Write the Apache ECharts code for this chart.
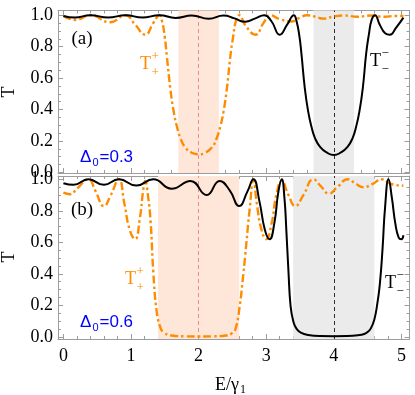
<!DOCTYPE html>
<html>
<head>
<meta charset="utf-8">
<script src="https://cdn.jsdelivr.net/npm/echarts@6/dist/echarts.min.js"></script>
<style>
  html, body { margin: 0; padding: 0; background: #fff; }
  #chart { width: 415px; height: 395px; }
</style>
</head>
<body>
<div id="chart"></div>
<script>
// ticks
const xTicks = [0, 1, 2, 3, 4, 5];
const xMinor = [0, 0.2, 0.4, 0.6, 0.8, 1, 1.2, 1.4, 1.6, 1.8, 2, 2.2, 2.4, 2.6, 2.8, 3, 3.2, 3.4, 3.6, 3.8, 4, 4.2, 4.4, 4.6, 4.8, 5];
const yTicks = [0, 0.2, 0.4, 0.6, 0.8, 1.0];
const yMinor = [0, 0.05, 0.1, 0.15, 0.2, 0.25, 0.3, 0.35, 0.4, 0.45, 0.5, 0.55, 0.6, 0.65, 0.7, 0.75, 0.8, 0.85, 0.9, 0.95, 1.0];

// panel (a), Delta0 = 0.3
const aBlackX = [0, 0.17, 0.4, 0.66, 0.92, 1.17, 1.42, 1.66, 1.9, 2.15, 2.37, 2.53, 2.69, 2.84, 2.97, 3.08, 3.2, 3.31, 3.41, 3.45, 3.49, 3.52, 3.57, 3.62, 3.67, 3.72, 3.8, 3.9, 4.0, 4.1, 4.2, 4.28, 4.33, 4.38, 4.43, 4.48, 4.52, 4.56, 4.61, 4.68, 4.76, 4.83, 4.92, 5.03];
const aBlackT = [0.995, 0.985, 1.0, 0.985, 1.0, 0.985, 1.0, 0.983, 0.998, 0.978, 0.998, 0.98, 0.958, 0.98, 1.0, 0.96, 0.876, 0.94, 1.0, 0.96, 0.87, 0.76, 0.54, 0.39, 0.29, 0.22, 0.16, 0.125, 0.11, 0.125, 0.16, 0.22, 0.29, 0.39, 0.54, 0.76, 0.88, 0.97, 1.0, 0.94, 0.885, 0.876, 0.92, 0.985];
const aOrangeX = [0, 0.18, 0.4, 0.69, 0.92, 1.06, 1.21, 1.33, 1.42, 1.46, 1.5, 1.53, 1.58, 1.63, 1.68, 1.73, 1.8, 1.9, 2.0, 2.1, 2.2, 2.27, 2.32, 2.37, 2.42, 2.47, 2.51, 2.55, 2.6, 2.7, 2.84, 2.96, 3.06, 3.2, 3.37, 3.5, 3.6, 3.73, 3.85, 4.0, 4.15, 4.35, 4.55, 4.75, 4.9, 5.03];
const aOrangeT = [0.995, 0.97, 1.0, 0.955, 1.0, 0.94, 0.876, 0.95, 1.0, 0.96, 0.86, 0.74, 0.54, 0.39, 0.29, 0.22, 0.16, 0.125, 0.115, 0.125, 0.16, 0.22, 0.29, 0.39, 0.54, 0.74, 0.86, 0.96, 1.0, 0.93, 0.876, 0.95, 1.0, 0.975, 0.96, 0.985, 1.0, 0.99, 0.978, 0.992, 0.998, 0.99, 0.998, 0.99, 0.995, 0.995];

// panel (b), Delta0 = 0.6
const bBlackX = [0, 0.15, 0.37, 0.6, 0.82, 1.08, 1.33, 1.6, 1.88, 2.12, 2.31, 2.46, 2.6, 2.72, 2.81, 2.9, 2.98, 3.05, 3.12, 3.18, 3.23, 3.27, 3.3, 3.33, 3.36, 3.4, 3.45, 3.52, 3.62, 3.8, 4.0, 4.2, 4.36, 4.45, 4.5, 4.55, 4.6, 4.64, 4.68, 4.72, 4.76, 4.81, 4.86, 4.91, 4.96, 5.0, 5.03];
const bBlackT = [0.975, 0.965, 1.0, 0.965, 1.0, 0.96, 1.0, 0.94, 0.99, 0.9, 0.99, 0.93, 0.83, 0.92, 1.0, 0.86, 0.68, 0.62, 0.72, 0.92, 1.0, 0.88, 0.66, 0.41, 0.2, 0.1, 0.05, 0.025, 0.012, 0.005, 0.004, 0.005, 0.01, 0.018, 0.03, 0.055, 0.11, 0.2, 0.33, 0.55, 0.83, 1.0, 0.88, 0.72, 0.63, 0.62, 0.645];
const bOrangeX = [0, 0.1, 0.2, 0.37, 0.47, 0.6, 0.7, 0.82, 0.9, 0.98, 1.06, 1.13, 1.18, 1.21, 1.25, 1.29, 1.33, 1.38, 1.43, 1.48, 1.6, 1.8, 2.0, 2.2, 2.4, 2.5, 2.55, 2.61, 2.65, 2.69, 2.76, 2.81, 2.86, 2.93, 3.0, 3.08, 3.15, 3.23, 3.33, 3.43, 3.55, 3.7, 3.8, 3.93, 4.05, 4.21, 4.33, 4.44, 4.57, 4.71, 4.85, 5.03];
const bOrangeT = [0.915, 0.905, 0.94, 1.0, 0.93, 0.83, 0.9, 1.0, 0.85, 0.68, 0.62, 0.75, 0.93, 0.99, 0.9, 0.73, 0.41, 0.16, 0.065, 0.03, 0.008, 0.003, 0.002, 0.003, 0.008, 0.025, 0.055, 0.2, 0.35, 0.52, 0.83, 1.0, 0.85, 0.68, 0.62, 0.72, 0.9, 0.99, 0.9, 0.83, 0.9, 1.0, 0.96, 0.91, 0.95, 1.0, 0.97, 0.95, 0.97, 1.0, 0.97, 0.96];

// shaded gaps (centre +/- Delta0)
const aOrangeBand = [1.7, 2.3];
const aGrayBand = [3.7, 4.3];
const bOrangeBand = [1.4, 2.6];
const bGrayBand = [3.4, 4.6];

const serif = '"Liberation Serif", "DejaVu Serif", serif';
const sans = '"Liberation Sans", Arial, sans-serif';
const frame = '#9c9c9c';
const orange = '#ff8c00';
const xMin = -0.08, xMax = 5.12;

const zip = (xs, ys) => xs.map((x, i) => [x, ys[i]]);

function xAxesFor(grid, showLabels) {
  const base = { type: 'value', gridIndex: grid, min: xMin, max: xMax, splitLine: { show: false } };
  const major = (pos, labels) => Object.assign({}, base, {
    position: pos,
    axisLine: { show: true, onZero: false, lineStyle: { color: frame, width: 1 } },
    axisTick: { show: true, inside: true, length: 5, customValues: xTicks, lineStyle: { color: frame } },
    axisLabel: labels
      ? { show: true, customValues: xTicks, margin: 8, fontFamily: serif, fontSize: 18, color: '#000', formatter: v => String(v) }
      : { show: false }
  });
  const minor = pos => Object.assign({}, base, {
    position: pos,
    axisLine: { show: false, onZero: false },
    axisTick: { show: true, inside: true, length: 3, customValues: xMinor, lineStyle: { color: frame } },
    axisLabel: { show: false }
  });
  return [major('bottom', showLabels), minor('bottom'), major('top', false), minor('top')];
}

function yAxesFor(grid, min, max) {
  const base = { type: 'value', gridIndex: grid, min: min, max: max, splitLine: { show: false } };
  const major = (pos, labels) => Object.assign({}, base, {
    position: pos,
    axisLine: { show: true, onZero: false, lineStyle: { color: frame, width: 1 } },
    axisTick: { show: true, inside: true, length: 5, customValues: yTicks, lineStyle: { color: frame } },
    axisLabel: labels
      ? { show: true, customValues: yTicks, margin: 5, fontFamily: serif, fontSize: 18, color: '#000', formatter: v => v.toFixed(1) }
      : { show: false }
  });
  const minor = pos => Object.assign({}, base, {
    position: pos,
    axisLine: { show: false, onZero: false },
    axisTick: { show: true, inside: true, length: 3, customValues: yMinor, lineStyle: { color: frame } },
    axisLabel: { show: false }
  });
  return [major('left', true), minor('left'), major('right', false), minor('right')];
}

function bands(orangeBand, grayBand) {
  return {
    silent: true,
    z: 1,
    data: [
      [{ xAxis: orangeBand[0], itemStyle: { color: '#fee6d8' } }, { xAxis: orangeBand[1] }],
      [{ xAxis: grayBand[0], itemStyle: { color: '#ebebeb' } }, { xAxis: grayBand[1] }]
    ]
  };
}

function vlines() {
  return {
    silent: true,
    symbol: ['none', 'none'],
    z: 1,
    label: { show: false },
    data: [
      { xAxis: 2, lineStyle: { color: '#f28a8a', type: [4, 3], width: 1 } },
      { xAxis: 4, lineStyle: { color: '#000', type: [4, 3], width: 0.8 } }
    ]
  };
}

function blackSeries(axisIdx, data) {
  return {
    type: 'line', xAxisIndex: axisIdx, yAxisIndex: axisIdx, data: data,
    showSymbol: false, smooth: 0.5, z: 4,
    lineStyle: { color: '#000', width: 2 }
  };
}

function orangeSeries(axisIdx, data, oBand, gBand) {
  return {
    type: 'line', xAxisIndex: axisIdx, yAxisIndex: axisIdx, data: data,
    showSymbol: false, smooth: 0.5, z: 3,
    lineStyle: { color: orange, width: 2.4, type: [8, 3, 2.5, 3] },
    markArea: bands(oBand, gBand),
    markLine: vlines()
  };
}

function txt(x, y, text, size, color, family, align, extra) {
  const a = align || 'left';
  return Object.assign({
    type: 'text', x: x, y: y, z: 100, silent: true,
    style: {
      text: text, fontSize: size, fontFamily: family, fill: color,
      align: a, verticalAlign: 'middle', textAlign: a, textVerticalAlign: 'middle'
    }
  }, extra || {});
}

function tLabel(x, y, sign, color) {
  return [
    txt(x, y, 'T', 18, color, serif),
    txt(x + 11.5, y - 7.5, sign, 13, color, serif),
    txt(x + 11.5, y + 8.5, sign, 13, color, serif)
  ];
}

function deltaLabel(x, y, value) {
  return [
    txt(x, y, 'Δ', 17, '#0000ff', sans),
    txt(x + 12.5, y + 5.5, '0', 11, '#0000ff', sans),
    txt(x + 19.5, y, '=' + value, 17, '#0000ff', sans)
  ];
}

const chart = echarts.init(document.getElementById('chart'));

chart.setOption({
  animation: false,
  backgroundColor: '#fff',
  grid: [
    { left: 58, top: 10.5, width: 351.5, height: 162.5 },
    { left: 58, top: 176, width: 351.5, height: 163 }
  ],
  xAxis: xAxesFor(0, false).concat(xAxesFor(1, true)),
  yAxis: yAxesFor(0, -0.004, 1.03).concat(yAxesFor(1, -0.014, 1.021)),
  series: [
    orangeSeries(0, zip(aOrangeX, aOrangeT), aOrangeBand, aGrayBand),
    blackSeries(0, zip(aBlackX, aBlackT)),
    orangeSeries(4, zip(bOrangeX, bOrangeT), bOrangeBand, bGrayBand),
    blackSeries(4, zip(bBlackX, bBlackT))
  ],
  graphic: [
    txt(82, 39, '(a)', 19, '#000', serif, 'center'),
    txt(82, 210, '(b)', 19, '#000', serif, 'center'),
    txt(9, 92, 'T', 18, '#000', serif, 'center', { rotation: Math.PI / 2 }),
    txt(9, 257, 'T', 18, '#000', serif, 'center', { rotation: Math.PI / 2 }),
    txt(215, 385, 'E/γ', 18, '#000', serif),
    txt(240, 390, '1', 12, '#000', serif)
  ].concat(
    tLabel(140, 64.5, '+', orange),
    tLabel(125, 279.5, '+', orange),
    tLabel(370, 61, '−', '#000'),
    tLabel(385, 283, '−', '#000'),
    deltaLabel(80, 157, '0.3'),
    deltaLabel(80, 322, '0.6')
  )
});
</script>
</body>
</html>
